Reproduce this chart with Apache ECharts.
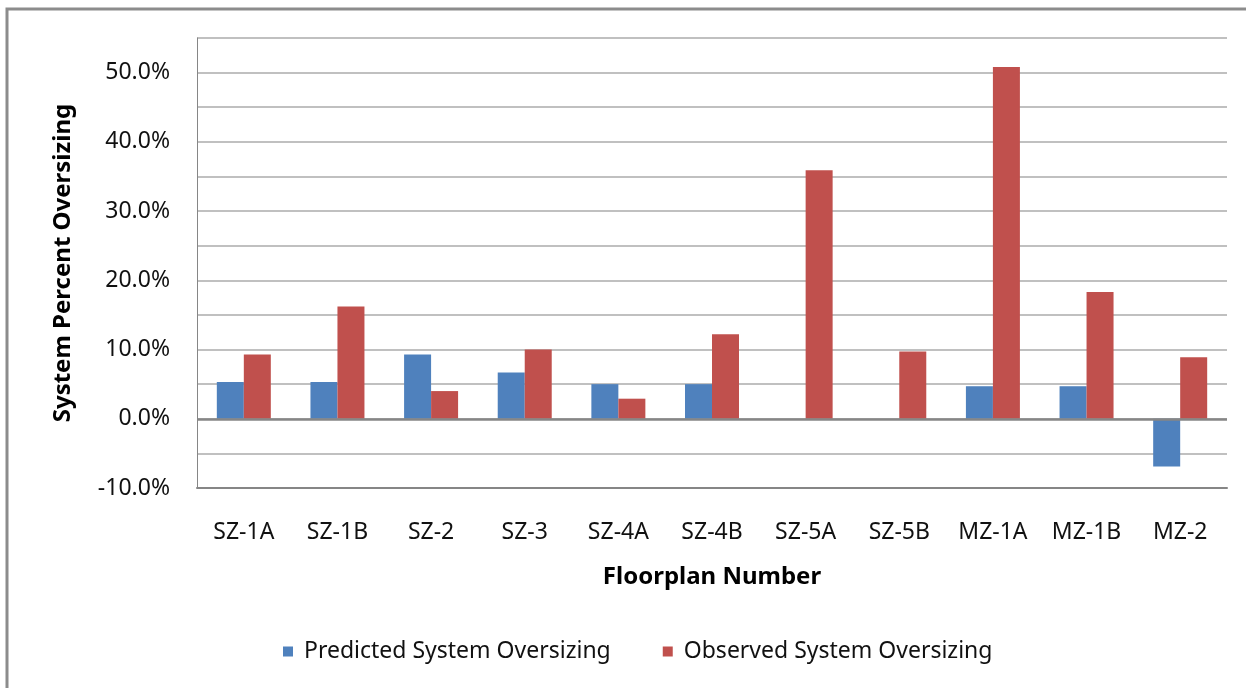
<!DOCTYPE html>
<html>
<head>
<meta charset="utf-8">
<script src="https://cdn.jsdelivr.net/npm/echarts@6/dist/echarts.min.js"></script>
<style>
html,body{margin:0;padding:0;background:#fff;}
#main{width:1246px;height:688px;}
</style>
</head>
<body>
<div id="main"></div>
<script>
const categories = ['SZ-1A','SZ-1B','SZ-2','SZ-3','SZ-4A','SZ-4B','SZ-5A','SZ-5B','MZ-1A','MZ-1B','MZ-2'];
const predicted = [5.3, 5.3, 9.3, 6.7, 5.0, 5.0, 0, 0, 4.7, 4.7, -6.9];
const observed = [9.3, 16.2, 4.0, 10.0, 2.9, 12.2, 35.9, 9.7, 50.8, 18.3, 8.9];
const seriesNames = ['Predicted System Oversizing', 'Observed System Oversizing'];
const FONT = '"Noto Sans", "Open Sans", sans-serif';

const chart = echarts.init(document.getElementById('main'), null, {renderer: 'canvas'});
chart.setOption({
  animation: false,
  backgroundColor: '#fff',
  graphic: [{
    type: 'rect',
    shape: {x: 7, y: 9, width: 1260, height: 700},
    style: {fill: 'none', stroke: '#8c8c8c', lineWidth: 3},
    z: 0
  }],
  grid: {left: 197, right: 19, top: 38, bottom: 200, containLabel: false},
  legend: {
    bottom: 20,
    left: 278,
    itemWidth: 10,
    itemHeight: 10,
    itemGap: 52,
    icon: 'rect',
    textStyle: {fontFamily: FONT, fontSize: 23, color: '#111', padding: [0, 0, 0, 6]},
    data: seriesNames
  },
  xAxis: {
    type: 'category',
    data: categories,
    name: 'Floorplan Number',
    nameLocation: 'middle',
    nameGap: 77,
    nameTextStyle: {fontFamily: FONT, fontSize: 24, fontWeight: 'bold', color: '#000'},
    axisLine: {onZero: false, lineStyle: {color: '#868686', width: 2}},
    axisTick: {show: false},
    axisLabel: {fontFamily: FONT, fontSize: 23, color: '#111', margin: 33},
    splitLine: {show: false}
  },
  yAxis: {
    type: 'value',
    min: -10,
    max: 55,
    interval: 5,
    name: 'System Percent Oversizing',
    nameLocation: 'middle',
    nameGap: 122,
    nameTextStyle: {fontFamily: FONT, fontSize: 24, fontWeight: 'bold', color: '#000'},
    axisLine: {show: true, lineStyle: {color: '#868686', width: 1}},
    axisTick: {show: false},
    axisLabel: {
      fontFamily: FONT, fontSize: 23, color: '#111', margin: 27,
      formatter: function (v) { return (Math.round(v) % 10 === 0) ? v.toFixed(1) + '%' : ''; }
    },
    splitLine: {show: true, lineStyle: {color: '#ababab', width: 1.5}}
  },
  series: [
    {
      name: seriesNames[0],
      type: 'bar',
      data: predicted,
      barWidth: 27,
      barGap: '0%',
      itemStyle: {color: '#4F81BD'},
      markLine: {
        silent: true,
        symbol: 'none',
        label: {show: false},
        lineStyle: {color: '#868686', width: 2.5, type: 'solid'},
        data: [{yAxis: 0}],
        z: 5
      }
    },
    {
      name: seriesNames[1],
      type: 'bar',
      data: observed,
      barWidth: 27,
      barGap: '0%',
      itemStyle: {color: '#C0504D'}
    }
  ]
});
</script>
</body>
</html>
